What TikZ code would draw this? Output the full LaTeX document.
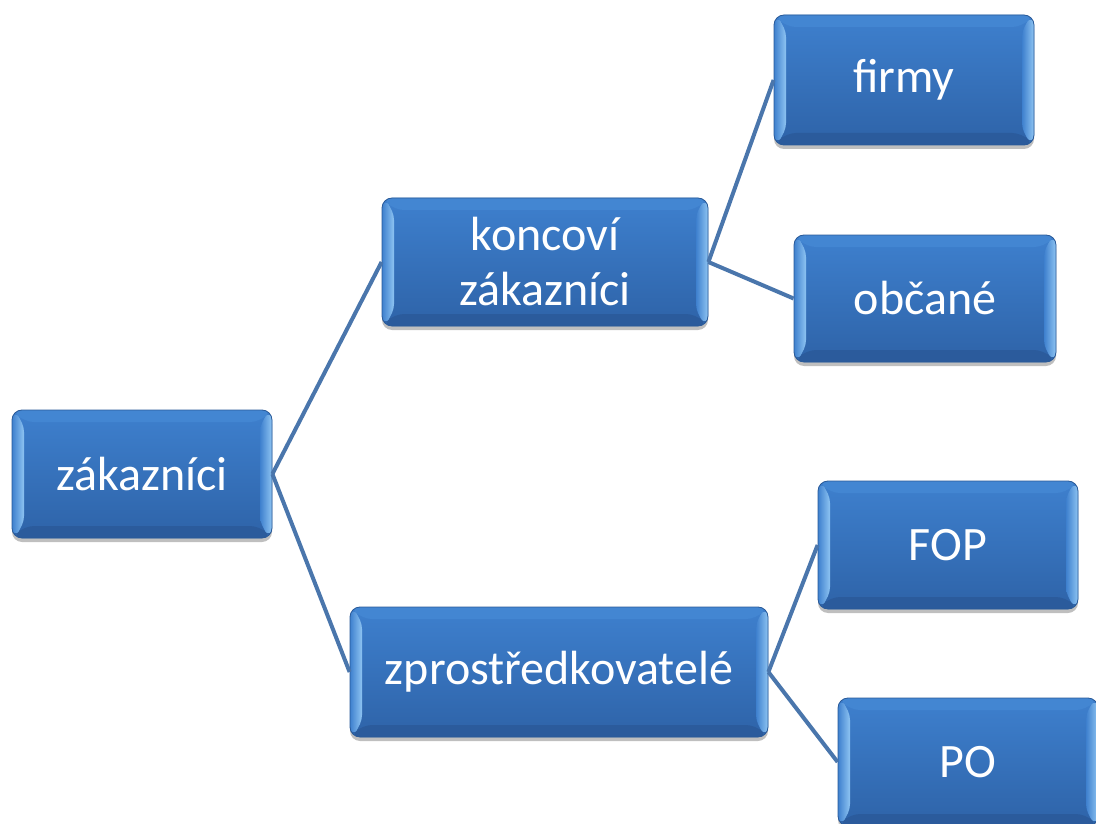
\documentclass[tikz,border=0pt]{standalone}
\usepackage{fontspec}
\setmainfont{Carlito}
\usetikzlibrary{shadows}
\definecolor{boxtop}{HTML}{3E80CE}
\definecolor{boxbot}{HTML}{2E63A8}
\definecolor{boxedge}{HTML}{2A5A98}
\definecolor{bevlight}{HTML}{8EC4F2}
\definecolor{bevtop}{HTML}{4386D2}
\definecolor{bevbot}{HTML}{2B5B9C}
\definecolor{linkcol}{HTML}{4A76AC}
\def\bv{12pt}
\tikzset{
  box/.style 2 args={rectangle, rounded corners=10pt, minimum width=#1pt, minimum height=#2pt,
    inner sep=0pt, text=white, align=center, font=\fontsize{48}{55}\selectfont,
    top color=boxtop, bottom color=boxbot, draw=boxedge, line width=0.8pt,
    drop shadow={shadow xshift=0pt, shadow yshift=-4pt, opacity=0.25, fill=black},
    path picture={
      \fill[bevtop] (path picture bounding box.north west) -- (path picture bounding box.north east)
        -- ([xshift=-\bv,yshift=-\bv]path picture bounding box.north east)
        -- ([xshift=\bv,yshift=-\bv]path picture bounding box.north west) -- cycle;
      \fill[bevbot] (path picture bounding box.south west) -- (path picture bounding box.south east)
        -- ([xshift=-\bv,yshift=\bv]path picture bounding box.south east)
        -- ([xshift=\bv,yshift=\bv]path picture bounding box.south west) -- cycle;
      \shade[left color=boxtop, right color=bevlight] (path picture bounding box.north west)
        -- ([xshift=\bv,yshift=-\bv]path picture bounding box.north west)
        -- ([xshift=\bv,yshift=\bv]path picture bounding box.south west)
        -- (path picture bounding box.south west) -- cycle;
      \shade[left color=boxtop, right color=bevlight] (path picture bounding box.north east)
        -- ([xshift=-\bv,yshift=-\bv]path picture bounding box.north east)
        -- ([xshift=-\bv,yshift=\bv]path picture bounding box.south east)
        -- (path picture bounding box.south east) -- cycle;
    }},
  link/.style={draw=linkcol, line width=4pt}
}
\begin{document}
\begin{tikzpicture}[x=1pt, y=-1pt]
\useasboundingbox (0,0) rectangle (1096,824);
\node[box={260}{128}] (zak) at (142,474) {zákazníci};
\node[box={326}{128}] (konc) at (545,262) {koncoví\\zákazníci};
\node[box={260}{130}] (firmy) at (904,80) {firmy};
\node[box={262}{127}] (obc) at (925,298.5) {občané};
\node[box={418}{130}] (zpro) at (559,672) {zprostředkovatelé};
\node[box={260}{128}] (fop) at (948,545) {FOP};
\node[box={260}{128}] (po) at (968,762) {PO};
\draw[link] (zak.east) -- (konc.west);
\draw[link] (zak.east) -- (zpro.west);
\draw[link] (konc.east) -- (firmy.west);
\draw[link] (konc.east) -- (obc.west);
\draw[link] (zpro.east) -- (fop.west);
\draw[link] (zpro.east) -- (po.west);
\end{tikzpicture}
\end{document}
